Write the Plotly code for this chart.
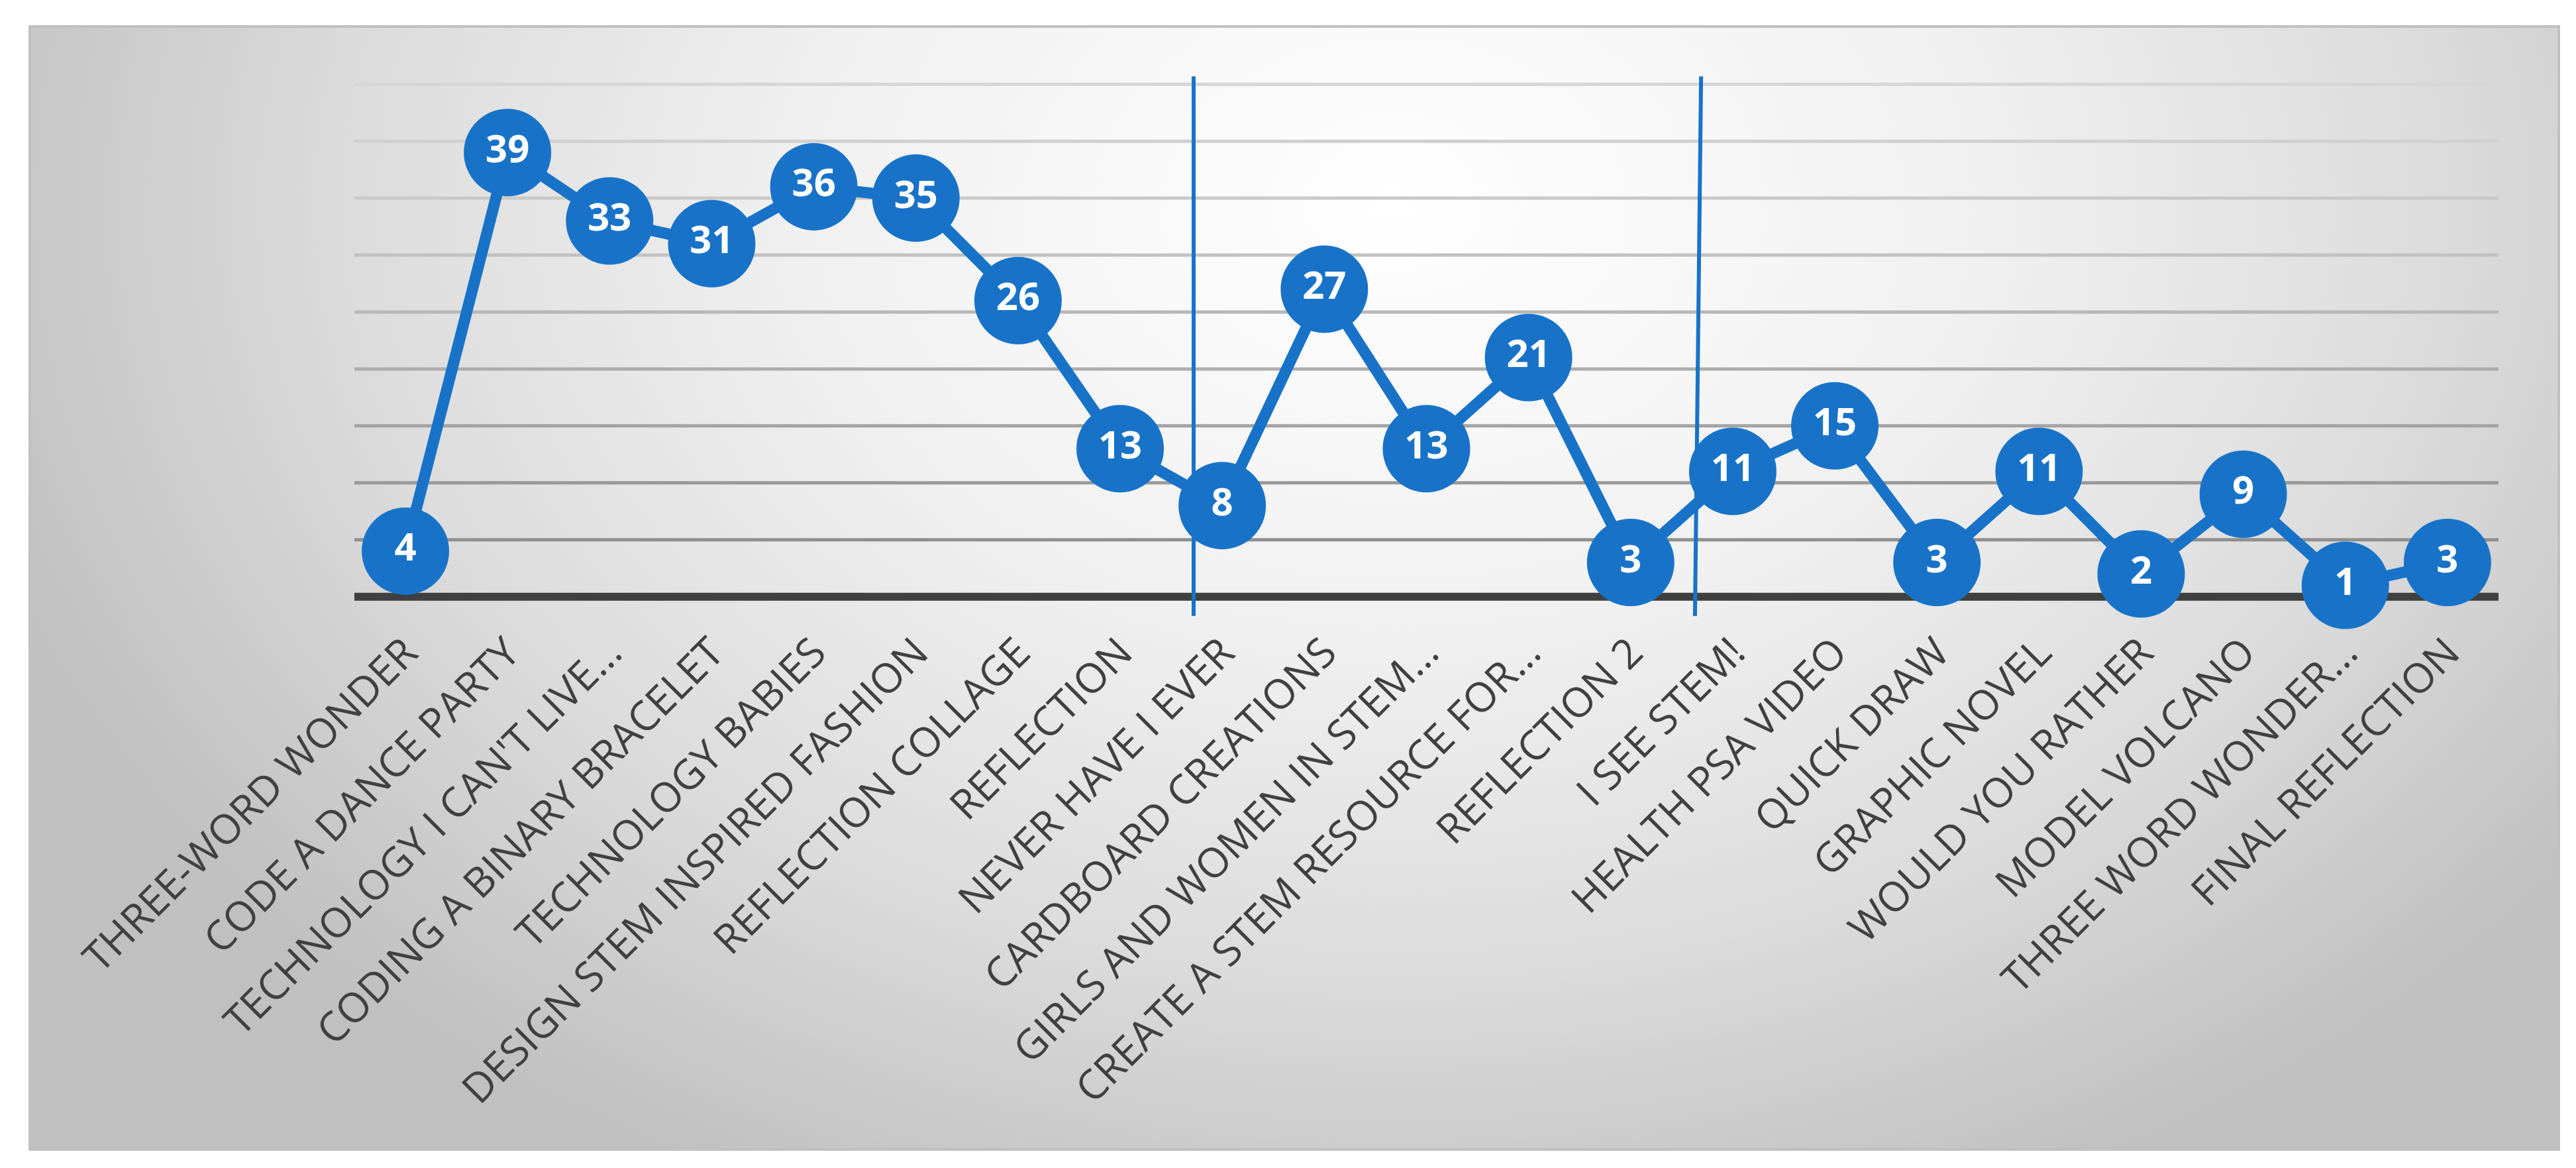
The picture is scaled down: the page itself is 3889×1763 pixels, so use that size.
import base64

import plotly.graph_objects as go

activities = [
    "THREE-WORD WONDER",
    "CODE A DANCE PARTY",
    "TECHNOLOGY I CAN'T LIVE...",
    "CODING A BINARY BRACELET",
    "TECHNOLOGY BABIES",
    "DESIGN STEM INSPIRED FASHION",
    "REFLECTION COLLAGE",
    "REFLECTION",
    "NEVER HAVE I EVER",
    "CARDBOARD CREATIONS",
    "GIRLS AND WOMEN IN STEM...",
    "CREATE A STEM RESOURCE FOR...",
    "REFLECTION 2",
    "I SEE STEM!",
    "HEALTH PSA VIDEO",
    "QUICK DRAW",
    "GRAPHIC NOVEL",
    "WOULD YOU RATHER",
    "MODEL VOLCANO",
    "THREE WORD WONDER...",
    "FINAL REFLECTION",
]
counts = [4, 39, 33, 31, 36, 35, 26, 13, 8, 27, 13, 21, 3, 11, 15, 3, 11, 2, 9, 1, 3]
grid_values = [5, 10, 15, 20, 25, 30, 35, 40, 45]
grid_colors = ["#8f8f8f", "#999999", "#a3a3a3", "#adadad", "#b7b7b7",
               "#c1c1c1", "#c9c9c9", "#d0d0d0", "#d6d6d6"]
# section dividers sit between categories (bottom, top)
dividers = [(7.72, 7.72), (12.63, 12.69)]

W, H = 3889, 1763
PLOT_L, PLOT_R = 527, 3764
PLOT_T, PLOT_B = 102, 927
Y_RANGE = [-2, 46]
BLUE = "#1873C8"


def px_x(px):
    return (px - PLOT_L) / (PLOT_R - PLOT_L)


def px_y(py):
    return (PLOT_B - py) / (PLOT_B - PLOT_T)


# soft radial grey panel behind the chart
panel_l, panel_t, panel_r, panel_b = 37, 32, 3855, 1727
pw, ph = panel_r - panel_l, panel_b - panel_t
cx, cy, rx, ry = 2060, 270, 2250, 1650
svg = (
    f'<svg xmlns="http://www.w3.org/2000/svg" width="{pw}" height="{ph}" '
    f'viewBox="0 0 {pw} {ph}" preserveAspectRatio="none"><defs>'
    f'<radialGradient id="g" gradientUnits="userSpaceOnUse" cx="{cx}" cy="{cy}" r="{rx}" '
    f'gradientTransform="translate({cx} {cy}) scale(1 {ry / rx:.4f}) translate({-cx} {-cy})">'
    '<stop offset="0" stop-color="#ffffff"/><stop offset="0.4" stop-color="#f0f0f0"/>'
    '<stop offset="0.7" stop-color="#dcdcdc"/><stop offset="1" stop-color="#c0c0c0"/>'
    '</radialGradient></defs>'
    f'<rect x="0" y="0" width="{pw}" height="{ph}" fill="url(#g)"/></svg>'
)
panel_src = "data:image/svg+xml;base64," + base64.b64encode(svg.encode()).decode()

fig = go.Figure()
fig.add_trace(go.Scatter(
    x=activities,
    y=counts,
    mode="lines+markers+text",
    text=[str(v) for v in counts],
    textposition="middle center",
    textfont=dict(family="Open Sans", size=58, color="white", weight="bold"),
    line=dict(color=BLUE, width=17),
    marker=dict(size=132, color=BLUE),
    cliponaxis=False,
    hoverinfo="skip",
))

shapes = [
    dict(type="rect", xref="paper", yref="paper",
         x0=px_x(panel_l), x1=px_x(panel_r), y0=px_y(panel_b), y1=px_y(panel_t),
         line=dict(color="#c0c0c0", width=4), fillcolor="rgba(0,0,0,0)", layer="below"),
]
for val, col in zip(grid_values, grid_colors):
    shapes.append(dict(type="line", xref="paper", yref="y", x0=0, x1=1, y0=val, y1=val,
                       line=dict(color=col, width=5), layer="below"))
shapes.append(dict(type="line", xref="paper", yref="y", x0=0, x1=1, y0=0, y1=0,
                   line=dict(color="#404040", width=12), layer="below"))
for xb, xt in dividers:
    shapes.append(dict(type="line", xref="x", yref="y", x0=xb, x1=xt, y0=-1.7, y1=45.7,
                       line=dict(color=BLUE, width=6), layer="above"))

fig.update_layout(
    width=W,
    height=H,
    margin=dict(l=PLOT_L, r=W - PLOT_R, t=PLOT_T, b=H - PLOT_B),
    paper_bgcolor="white",
    plot_bgcolor="rgba(0,0,0,0)",
    showlegend=False,
    shapes=shapes,
    images=[dict(source=panel_src, xref="paper", yref="paper",
                 x=px_x(panel_l), y=px_y(panel_t),
                 sizex=pw / (PLOT_R - PLOT_L), sizey=ph / (PLOT_B - PLOT_T),
                 xanchor="left", yanchor="top", sizing="stretch", layer="below")],
    xaxis=dict(
        type="category",
        range=[-0.5, len(activities) - 0.5],
        showgrid=False,
        showline=False,
        zeroline=False,
        ticks="",
        tickangle=-45,
        tickfont=dict(family="Open Sans", size=62, color="#404040"),
    ),
    yaxis=dict(
        range=Y_RANGE,
        showgrid=False,
        showline=False,
        zeroline=False,
        showticklabels=False,
        ticks="",
    ),
)

fig.write_html("out.html")
